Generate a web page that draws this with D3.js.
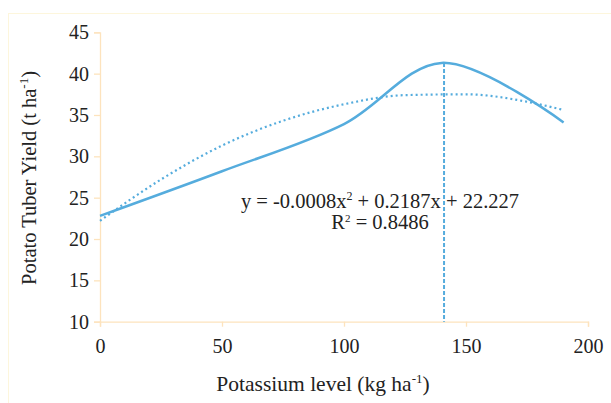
<!DOCTYPE html>
<html>
<head>
<meta charset="utf-8">
<script src="https://cdn.jsdelivr.net/npm/d3@7"></script>
<style>
  body { margin: 0; background: #fff; }
</style>
</head>
<body>
<div id="vis"></div>
<script>
// potassium levels and measured tuber yield
const potassiumLevels = [0, 50, 100, 140, 190]
const tuberYield = [22.8, 28.2, 33.9, 41.3, 34.1]

// polynomial trendline
const trendLevels = [0, 25, 50, 75, 100, 125, 150, 175, 190]
const trendYield = [22.2, 27.2, 31.3, 34.3, 36.3, 37.4, 37.5, 36.6, 35.6]

const optimumLevel = 141
const xTicks = [0, 50, 100, 150, 200]
const yTicks = [10, 15, 20, 25, 30, 35, 40, 45]

const W = 611, H = 403
const blue = '#55acdd'
const axisColor = '#fde3bd'
const serif = 'Liberation Serif'

let svg = d3.select('#vis')
    .append('svg')
    .attr('width', W)
    .attr('height', H)
    .attr('font-family', serif)

// faint chart border
svg.append('rect')
    .attr('x', 8.5)
    .attr('y', 13.5)
    .attr('width', 640)
    .attr('height', 420)
    .attr('fill', 'none')
    .attr('stroke', '#fdf6dc')

let x = d3.scaleLinear().domain([0, 200]).range([100, 588])
let y = d3.scaleLinear().domain([10, 45]).range([321.7, 32.3])

// y axis
let yAxis = d3.axisLeft(y).tickValues(yTicks).tickSize(6).tickPadding(5)
let yAxisGroup = svg.append('g')
    .attr('transform', `translate(${x(0)},0)`)
    .call(yAxis)
    .attr('font-family', serif)
yAxisGroup.select('.domain').attr('stroke', axisColor).attr('stroke-width', 1.3)
yAxisGroup.selectAll('.tick line').attr('stroke', axisColor).attr('stroke-width', 1.3)
yAxisGroup.selectAll('.tick text')
    .attr('font-size', '20px')
    .attr('fill', '#222')

// x axis
let xAxis = d3.axisBottom(x).tickValues(xTicks).tickSize(5).tickPadding(12)
let xAxisGroup = svg.append('g')
    .attr('transform', `translate(0,${y(10)})`)
    .call(xAxis)
    .attr('font-family', serif)
xAxisGroup.select('.domain').attr('stroke', axisColor).attr('stroke-width', 1.3)
xAxisGroup.selectAll('.tick line').attr('stroke', axisColor).attr('stroke-width', 1.3)
xAxisGroup.selectAll('.tick text')
    .attr('font-size', '20px')
    .attr('fill', '#222')

// axis titles
let xTitle = svg.append('text')
    .attr('x', 323)
    .attr('y', 391)
    .attr('text-anchor', 'middle')
    .attr('font-size', '21.5px')
    .attr('fill', '#222')
xTitle.append('tspan').text('Potassium level (kg ha')
xTitle.append('tspan').text('-1').attr('font-size', '13px').attr('dy', -8)
xTitle.append('tspan').text(')').attr('dy', 8)

let yTitle = svg.append('text')
    .attr('transform', 'translate(36,178) rotate(-90)')
    .attr('text-anchor', 'middle')
    .attr('font-size', '20.5px')
    .attr('fill', '#222')
yTitle.append('tspan').text('Potato Tuber Yield (t ha')
yTitle.append('tspan').text('-1').attr('font-size', '13px').attr('dy', -8)
yTitle.append('tspan').text(')').attr('dy', 8)

// trendline (dotted)
let trendData = trendLevels.map((d, i) => [d, trendYield[i]])
svg.append('path')
    .datum(trendData)
    .attr('fill', 'none')
    .attr('stroke', blue)
    .attr('stroke-width', 2.2)
    .attr('stroke-dasharray', '2,3')
    .attr('d', d3.line().x(d => x(d[0])).y(d => y(d[1])).curve(d3.curveMonotoneX))

// smoothed yield line
let yieldData = potassiumLevels.map((d, i) => [d, tuberYield[i]])
svg.append('path')
    .datum(yieldData)
    .attr('fill', 'none')
    .attr('stroke', blue)
    .attr('stroke-width', 2.5)
    .attr('d', d3.line().x(d => x(d[0])).y(d => y(d[1])).curve(d3.curveCatmullRom.alpha(0.5)))

// optimum marker
svg.append('line')
    .attr('x1', x(optimumLevel))
    .attr('x2', x(optimumLevel))
    .attr('y1', y(41.3))
    .attr('y2', y(10))
    .attr('stroke', blue)
    .attr('stroke-width', 2)
    .attr('stroke-dasharray', '4,2')

// equation
let eq = svg.append('text')
    .attr('x', 380)
    .attr('y', 208)
    .attr('text-anchor', 'middle')
    .attr('font-size', '20.5px')
    .attr('fill', '#222')
eq.append('tspan').text('y = -0.0008x')
eq.append('tspan').text('2').attr('font-size', '12px').attr('dy', -8)
eq.append('tspan').text(' + 0.2187x + 22.227').attr('dy', 8)

let r2 = svg.append('text')
    .attr('x', 380)
    .attr('y', 229)
    .attr('text-anchor', 'middle')
    .attr('font-size', '20.5px')
    .attr('fill', '#222')
r2.append('tspan').text('R')
r2.append('tspan').text('2').attr('font-size', '11px').attr('dy', -7)
r2.append('tspan').text(' = 0.8486').attr('dy', 7)
</script>
</body>
</html>
